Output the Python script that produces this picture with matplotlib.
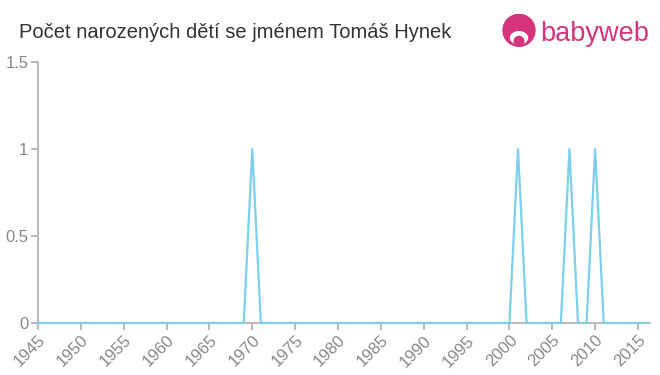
import matplotlib
matplotlib.use('Agg')
import matplotlib.pyplot as plt
from matplotlib.patches import Circle, Ellipse

plt.rcParams['font.family'] = ['Liberation Sans', 'DejaVu Sans']

title = 'Počet narozených dětí se jménem Tomáš Hynek'
years = list(range(1945, 2017))
peak_years = [1970, 2001, 2007, 2010]
counts = [1 if y in peak_years else 0 for y in years]
xticks = list(range(1945, 2016, 5))
yticks = [0, 0.5, 1, 1.5]
ytick_labels = ['0', '0.5', '1', '1.5']

line_color = '#7dcfea'
axis_color = '#bbbbbb'
label_color = '#888888'
pink = '#d6337d'

fig = plt.figure(figsize=(6.6, 3.75), dpi=100)
ax = fig.add_axes([38 / 660, 52 / 375, 612 / 660, 261 / 375])

ax.plot(years, counts, color=line_color, linewidth=1.6, zorder=3, clip_on=False)

ax.set_xlim(1945, 2016.4)
ax.set_ylim(0, 1.5)
ax.set_xticks(xticks)
ax.set_xticklabels([str(x) for x in xticks], rotation=45, ha='right', va='top',
                   rotation_mode='anchor')
ax.set_yticks(yticks)
ax.set_yticklabels(ytick_labels)

for side in ['top', 'right']:
    ax.spines[side].set_visible(False)
for side in ['left', 'bottom']:
    ax.spines[side].set_color(axis_color)
    ax.spines[side].set_linewidth(1.5)
ax.tick_params(axis='both', colors=axis_color, labelcolor=label_color,
               length=5, width=1.5, labelsize=12, pad=2)

fig.text(19 / 660, 1 - 33 / 375, title, fontsize=14.5, color='#333333',
         ha='left', va='center')

# babyweb logo
fig.text(540 / 660, 1 - 34 / 375, 'babyweb', fontsize=19.5, color=pink,
         ha='left', va='center')
logo_ax = fig.add_axes([502 / 660, 1 - 48 / 375, 34 / 660, 34 / 375])
logo_ax.set_xlim(0, 1)
logo_ax.set_ylim(0, 1)
logo_ax.set_aspect('equal')
logo_ax.axis('off')
logo_ax.add_patch(Circle((0.5, 0.52), 0.47, color=pink))
logo_ax.add_patch(Ellipse((0.5, 0.3), 0.5, 0.36, color='white'))
logo_ax.add_patch(Circle((0.5, 0.2), 0.14, color=pink))

fig.savefig('out.png', dpi=100)
